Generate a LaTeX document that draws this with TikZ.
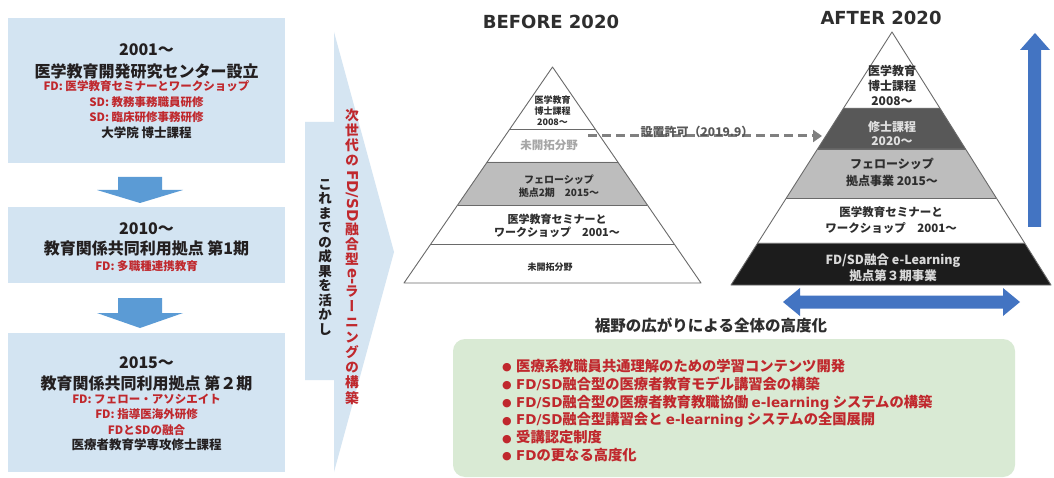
\documentclass[tikz,border=0pt]{standalone}
\usepackage{fontspec}
\usepackage{graphicx}
\setmainfont{Noto Sans CJK JP}
\newfontfamily\jpv{Noto Sans CJK JP}[RawFeature=+vert]
\newfontfamily\dvs{DejaVu Sans}
\usetikzlibrary{arrows.meta,calc}
\definecolor{boxblue}{HTML}{D3E4F2}
\definecolor{arrblue}{HTML}{5B9BD5}
\definecolor{lightarr}{HTML}{D5E5F2}
\definecolor{bigblue}{HTML}{4374C2}
\definecolor{myred}{HTML}{C0282D}
\definecolor{ink}{HTML}{231F20}
\definecolor{grn}{HTML}{D9EAD4}
\definecolor{pyline}{HTML}{6A6A6A}
\definecolor{pygray}{HTML}{BDBDBD}
\definecolor{pydark}{HTML}{585858}
\definecolor{pyblack}{HTML}{1C1C1C}
\definecolor{pyink}{HTML}{2E2E2E}
\definecolor{dashgray}{HTML}{808080}
\newcommand\fsz[2]{\fontsize{#1}{#2}\selectfont}
\newcommand\rot[1]{\raisebox{0.8em}{\rotatebox{-90}{\dvs\bfseries\fontsize{15}{16}\selectfont #1}}}
\newcommand\lat[1]{{\dvs\bfseries\fontsize{13.5}{17.8}\selectfont #1}}
\newcommand\bul{\makebox[14pt][l]{\raisebox{0.5pt}{\dvs\fsz{11}{11}●}}}
\begin{document}
\begin{tikzpicture}[x=1pt,y=-1pt,
  lbox/.style={fill=boxblue, draw=none, inner sep=0},
  ttl/.style={inner sep=0, align=center, text=ink, font=\bfseries\fsz{16}{20}},
  redt/.style={inner sep=0, align=center, text=myred, font=\bfseries\fsz{11.5}{15.4}},
  blk/.style={inner sep=0, align=center, text=ink, font=\bfseries\fsz{12.5}{15}},
  pyl/.style={inner sep=0, align=center, text=pyink, font=\bfseries},
  pyedge/.style={draw=pyline, line width=0.9pt},
  dashline/.style={draw=dashgray, line width=3pt, dash pattern=on 9pt off 5pt, -{Triangle[length=9pt,width=12pt]}},
]
\useasboundingbox (0,0) rectangle (1054,478);
\fill[white] (0,0) rectangle (1054,478);

% ---------- left column ----------
\node[lbox, minimum width=277pt, minimum height=145pt] (b1) at (146.5,90.5) {};
\node[lbox, minimum width=277pt, minimum height=76pt] (b2) at (146.5,245) {};
\node[lbox, minimum width=277pt, minimum height=139pt] (b3) at (146.5,402.5) {};

\node[ttl] (t1a) at (146.5,50) {2001～};
\node[ttl] (t1b) at (146.5,71) {医学教育開発研究センター設立};
\node[redt] (t1c) at (146.5,102) {FD: 医学教育セミナーとワークショップ\\SD: 教務事務職員研修\\SD: 臨床研修事務研修};
\node[blk] (t1d) at (146.5,133) {大学院 博士課程};

\node[ttl] (t2a) at (146.5,229) {2010～};
\node[ttl] (t2b) at (146.5,248) {教育関係共同利用拠点 第1期};
\node[redt] (t2c) at (146.5,266) {FD: 多職種連携教育};

\node[ttl] (t3a) at (146.5,363) {2015～};
\node[ttl] (t3b) at (146.5,383) {教育関係共同利用拠点 第２期};
\node[redt] (t3c) at (146.5,414.5) {FD: フェロー・アソシエイト\\FD: 指導医海外研修\\FDとSDの融合};
\node[blk] (t3d) at (146.5,445) {医療者教育学専攻修士課程};

% down arrows
\fill[arrblue] (118,177) -- (162,177) -- (162,190) -- (183,190) -- (140,203) -- (97,190) -- (118,190) -- cycle;
\fill[arrblue] (118,298) -- (162,298) -- (162,313) -- (183,313) -- (140,328) -- (97,313) -- (118,313) -- cycle;

% big right arrow
\fill[lightarr] (305,122) -- (334,122) -- (334,32) -- (394,252) -- (334,472) -- (334,380) -- (305,380) -- cycle;
\node[inner sep=0, align=center, text=ink, font=\bfseries\fsz{13.5}{14.5}] (vblack) at (325,257)
 {こ\\れ\\ま\\で\\の\\成\\果\\を\\活\\か\\し};
\node[inner sep=0, align=center, text=myred, font=\jpv\bfseries\fsz{13.8}{15.2}] (vred) at (352,256.5)
 {次\\世\\代\\の\\ \rot{FD/SD}\\融\\合\\型\\ \rot{e-}\\ラ\\ー\\ニ\\ン\\グ\\の\\構\\築};

% ---------- BEFORE pyramid ----------
\node[inner sep=0, font=\dvs\bfseries\fsz{18}{20}, text=pyink] (tbefore) at (551,22) {BEFORE 2020};
\coordinate (bA) at (552.5,67);
\coordinate (bL) at (404,283);
\coordinate (bR) at (701,283);
\fill[white] (bA) -- (bL) -- (bR) -- cycle;
\fill[pygray] ($(bA)!{95/216}!(bL)$) -- ($(bA)!{95/216}!(bR)$) -- ($(bA)!{138/216}!(bR)$) -- ($(bA)!{138/216}!(bL)$) -- cycle;
\foreach \t in {62,95,138,177}{
  \draw[pyedge] ($(bA)!{\t/216}!(bL)$) -- ($(bA)!{\t/216}!(bR)$);
}
\draw[pyedge, line join=round] (bA) -- (bL) -- (bR) -- cycle;

\node[pyl, font=\bfseries\fsz{9}{11}] (bl1) at (552.5,111) {医学教育\\博士課程\\2008～};
\node[pyl, font=\bfseries\fsz{11.5}{13}, text=gray!70] (bl2) at (549,145) {未開拓分野};
\node[pyl, font=\bfseries\fsz{10}{13}] (bl3) at (559,186.5) {フェローシップ\\拠点2期　2015～};
\node[pyl, font=\bfseries\fsz{11}{12.5}] (bl4) at (557,226) {医学教育セミナーと\\ワークショップ　2001～};
\node[pyl, font=\bfseries\fsz{9}{11}] (bl5) at (550,267) {未開拓分野};

% dashed arrow
\coordinate (dS) at (588,136);
\coordinate (dE) at (822,136);
\draw[dashline] (dS) -- (dE);
\node[inner sep=0, font=\bfseries\fsz{12}{13}, text=pydark] (dlab) at (697,131.5) {設置許可（2019.9）};

% ---------- AFTER pyramid ----------
\node[inner sep=0, font=\dvs\bfseries\fsz{18}{20}, text=pyink] (tafter) at (881,18) {AFTER 2020};
\coordinate (aA) at (892,32);
\coordinate (aL) at (731,285);
\coordinate (aR) at (1051,285);
\fill[white] (aA) -- (aL) -- (aR) -- cycle;
\fill[pydark] ($(aA)!{76/253}!(aL)$) -- ($(aA)!{76/253}!(aR)$) -- ($(aA)!{117/253}!(aR)$) -- ($(aA)!{117/253}!(aL)$) -- cycle;
\fill[pygray] ($(aA)!{117/253}!(aL)$) -- ($(aA)!{117/253}!(aR)$) -- ($(aA)!{166/253}!(aR)$) -- ($(aA)!{166/253}!(aL)$) -- cycle;
\fill[pyblack] ($(aA)!{211/253}!(aL)$) -- ($(aA)!{211/253}!(aR)$) -- (aR) -- (aL) -- cycle;
\foreach \t in {76,117,166,211}{
  \draw[pyedge] ($(aA)!{\t/253}!(aL)$) -- ($(aA)!{\t/253}!(aR)$);
}
\draw[pyedge, line join=round] (aA) -- (aL) -- (aR) -- cycle;

\node[pyl, font=\bfseries\fsz{12}{15}] (al1) at (892,85) {医学教育\\博士課程\\2008～};
\node[pyl, font=\bfseries\fsz{12}{14}, text=white!88!black] (al2) at (892,133) {修士課程\\2020～};
\node[pyl, font=\bfseries\fsz{12}{17}] (al3) at (892,172.5) {フェローシップ\\拠点事業 2015～};
\node[pyl, font=\bfseries\fsz{11.5}{16}] (al4) at (891,220) {医学教育セミナーと\\ワークショップ　2001～};
\node[pyl, font=\bfseries\fsz{12.5}{16}, text=white!85!black] (al5) at (893,268) {FD/SD融合 e-Learning\\拠点第３期事業};

% blue arrows
\fill[bigblue] (1028,227) -- (1041,227) -- (1041,50) -- (1050,50) -- (1035,33) -- (1020,50) -- (1028,50) -- cycle;
\fill[bigblue] (783,302) -- (800,288) -- (800,295.5) -- (1003,295.5) -- (1003,288) -- (1020,302) -- (1003,316) -- (1003,308.5) -- (800,308.5) -- (800,316) -- cycle;

\node[inner sep=0, font=\bfseries\fsz{15.5}{17}, text=pyink] (base) at (711,325) {裾野の広がりによる全体の高度化};

% ---------- green box ----------
\node[fill=grn, draw=none, rounded corners=12pt, minimum width=562pt, minimum height=138pt, inner sep=0] (gbox) at (734,408) {};
\node[anchor=west, align=left, inner sep=0, text=myred, font=\bfseries\fsz{14.3}{17.8}] (blist) at (502,410.5)
 {\bul 医療系教職員共通理解のための学習コンテンツ開発\\
  \bul \lat{FD/SD}融合型の医療者教育モデル講習会の構築\\
  \bul \lat{FD/SD}融合型の医療者教育教職協働 \lat{e-learning} システムの構築\\
  \bul \lat{FD/SD}融合型講習会と \lat{e-learning} システムの全国展開\\
  \bul 受講認定制度\\
  \bul \lat{FD}の更なる高度化};
\end{tikzpicture}
\end{document}
